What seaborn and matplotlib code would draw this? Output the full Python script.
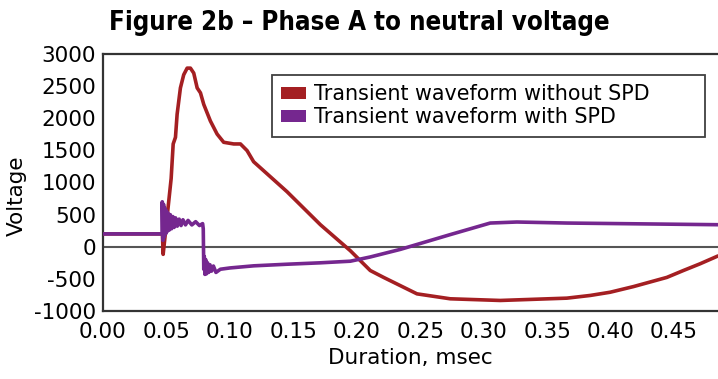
import matplotlib
matplotlib.use("Agg")
import matplotlib.pyplot as plt
from matplotlib.patches import Patch
import numpy as np
import pandas as pd
import seaborn as sns

# Series labels and colours
series_names = ["Transient waveform without SPD", "Transient waveform with SPD"]
series_colors = ["#A41F22", "#75278F"]

# Transient without surge protection (time in ms, voltage in V)
t_without = [0.0, 0.0468, 0.0474, 0.0537, 0.0553, 0.0571, 0.0584, 0.0610, 0.0636,
             0.0663, 0.0689, 0.0715, 0.0742, 0.0768, 0.0794, 0.0846, 0.0899, 0.0951,
             0.1030, 0.1083, 0.1135, 0.1187, 0.1450, 0.1713, 0.1949, 0.2106, 0.2211,
             0.2474, 0.2736, 0.3130, 0.3655, 0.3839, 0.3996, 0.4180, 0.4443, 0.4573,
             0.4705, 0.4846]
v_without = [200, 200, -118, 1062, 1600, 1703, 2062, 2472, 2677,
             2780, 2780, 2703, 2472, 2395, 2215, 1958, 1754, 1626,
             1600, 1600, 1497, 1323, 857, 343, -62, -370, -477,
             -733, -810, -836, -800, -758, -708, -620, -477, -370,
             -265, -143]

# Transient with surge protection (time in ms, voltage in V)
t_with = [0.0, 0.0466, 0.0467, 0.0472, 0.0477, 0.0482, 0.0488, 0.0494, 0.0500,
          0.0507, 0.0514, 0.0522, 0.0530, 0.0540, 0.0550, 0.0560, 0.0572, 0.0585,
          0.0600, 0.0615, 0.0630, 0.0650, 0.0670, 0.0700, 0.0730, 0.0760, 0.0785,
          0.0790, 0.0794, 0.0798, 0.0803, 0.0809, 0.0816, 0.0824, 0.0833, 0.0843,
          0.0855, 0.0870, 0.0890, 0.0925, 0.1000, 0.1187, 0.1450, 0.1713, 0.1949,
          0.2106, 0.2343, 0.2736, 0.3051, 0.3261, 0.3655, 0.4846]
v_with = [200, 200, 700, 100, 660, 150, 600, 200, 560,
          240, 520, 260, 500, 280, 470, 300, 450, 320,
          430, 330, 420, 340, 410, 340, 390, 330, 360,
          280, -350, -150, -430, -200, -420, -250, -400, -280,
          -380, -300, -400, -350, -330, -297, -272, -250, -225,
          -159, -41, 189, 369, 385, 369, 343]

x_ticks = [0.00, 0.05, 0.10, 0.15, 0.20, 0.25, 0.30, 0.35, 0.40, 0.45]
y_ticks = [-1000, -500, 0, 500, 1000, 1500, 2000, 2500, 3000]

df = pd.concat([
    pd.DataFrame({"t": t_without, "v": v_without, "series": series_names[0]}),
    pd.DataFrame({"t": t_with, "v": v_with, "series": series_names[1]}),
], ignore_index=True)

sns.set_style("white")
plt.rcParams["font.family"] = ["DejaVu Sans"]
plt.rcParams["text.color"] = "black"
plt.rcParams["axes.labelcolor"] = "black"

fig = plt.figure(figsize=(7.18, 3.79), dpi=100)
ax = fig.add_axes([103 / 718, 68 / 379, 615 / 718, 257 / 379])

ax.axhline(0, color="#555555", lw=1.5, zorder=1)
sns.lineplot(data=df, x="t", y="v", hue="series", hue_order=series_names,
             palette=series_colors, estimator=None, sort=False, lw=2.6,
             legend=False, ax=ax, zorder=3)

ax.set_xlim(0, 0.4846)
ax.set_ylim(-1000, 3000)
ax.set_xticks(x_ticks)
ax.set_xticklabels([f"{t:.2f}" for t in x_ticks])
ax.set_yticks(y_ticks)
ax.set_yticklabels([str(v) for v in y_ticks])
ax.tick_params(direction="in", length=9, width=1.2, color="#777777",
               labelsize=15.5, labelcolor="black")
ax.tick_params(axis="y", pad=5)
ax.tick_params(axis="x", pad=8)

for side in ["left", "bottom", "top"]:
    ax.spines[side].set_color("#333333")
    ax.spines[side].set_linewidth(1.6)
ax.spines["right"].set_visible(False)

ax.set_xlabel("Duration, msec", fontsize=15.5, labelpad=4)
ax.set_ylabel("Voltage", fontsize=15.5)
ax.yaxis.set_label_coords(-0.124, 0.447)

handles = [Patch(facecolor=c, edgecolor="none", label=n)
           for n, c in zip(series_names, series_colors)]
leg = ax.legend(handles=handles, loc="upper left",
                bbox_to_anchor=(0.2748, 0.673, 0.704, 0.245), mode="expand",
                fontsize=14.9, frameon=True, fancybox=False, borderpad=0.45,
                handlelength=1.2, handleheight=0.5, handletextpad=0.4,
                labelspacing=0.15, borderaxespad=0)
leg.get_frame().set_edgecolor("#111111")
leg.get_frame().set_linewidth(1.3)
for txt in leg.get_texts():
    txt.set_color("black")

# Heavy, condensed title; shrink it if the available face is too wide
title = fig.text(0.5, 1 - 23 / 379, "Figure 2b \u2013 Phase A to neutral voltage",
                 ha="center", va="center", fontsize=21, fontweight="heavy",
                 fontstretch="condensed", family=["DejaVu Sans"])
fig.canvas.draw()
w = title.get_window_extent(fig.canvas.get_renderer()).width
if w > 505:
    title.set_fontsize(21 * 502 / w)

fig.savefig("out.png", dpi=100)
